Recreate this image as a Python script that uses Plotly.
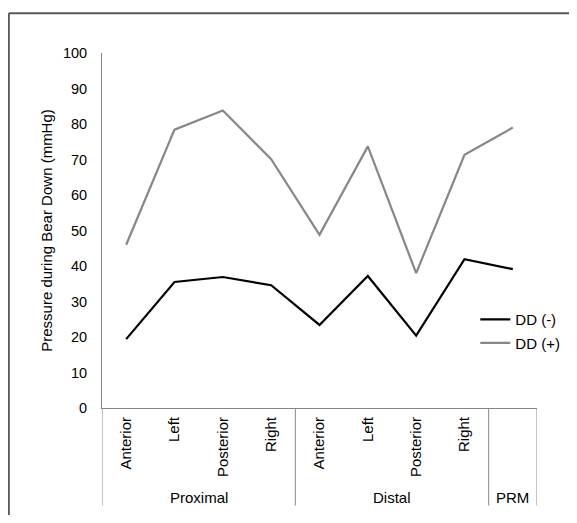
import plotly.graph_objects as go

# ---- data ----
categories = ["Anterior", "Left", "Posterior", "Right",
              "Anterior", "Left", "Posterior", "Right", ""]
groups = ["Proximal", "Distal", "PRM"]
group_sizes = [4, 4, 1]
dd_minus = [19.4, 35.5, 36.9, 34.6, 23.4, 37.2, 20.4, 41.9, 39.1]
dd_plus = [46.0, 78.4, 83.8, 70.1, 48.8, 73.7, 38.0, 71.3, 79.0]
y_ticks = list(range(0, 101, 10))

FONT = "Liberation Sans, Arial, sans-serif"
AXIS_COLOR = "#868686"

x_idx = list(range(len(categories)))

fig = go.Figure()
fig.add_trace(go.Scatter(x=x_idx, y=dd_minus, mode="lines", name="DD (-)",
                         line=dict(color="#000000", width=2.2),
                         legendgroup="a"))
fig.add_trace(go.Scatter(x=x_idx, y=dd_plus, mode="lines", name="DD (+)",
                         line=dict(color="#878787", width=2.2),
                         legendgroup="b"))

# figure geometry (pixels, figure sits 8px inside the page because of body margin)
OFF = 8
W, H = 577 - 2 * OFF, 523 - 2 * OFF
L, R, T, B = 101.7 - OFF, 536.7 - OFF, 53.3 - OFF, 407.7 - OFF
pw, ph = R - L, B - T

def px_to_paper_x(px):
    return (px - OFF - L) / pw

def px_to_paper_y(py):
    return (B - (py - OFF)) / ph

shapes = []
annotations = []
# group separators below the axis
bounds = [-0.5]
for s in group_sizes:
    bounds.append(bounds[-1] + s)
sep_bottom = px_to_paper_y(505)
for b in bounds:
    shapes.append(dict(type="line", xref="x", yref="paper", x0=b, x1=b,
                       y0=0, y1=sep_bottom,
                       line=dict(color=AXIS_COLOR, width=1)))
# group labels
for g, a, b in zip(groups, bounds[:-1], bounds[1:]):
    annotations.append(dict(text=g, x=(a + b) / 2, xref="x",
                            y=px_to_paper_y(497), yref="paper",
                            showarrow=False, xanchor="center", yanchor="middle",
                            font=dict(family=FONT, size=15, color="#000")))
# outer frame (only left and top edges are visible)
fx, fy = px_to_paper_x(8.5), px_to_paper_y(13.5)
shapes.append(dict(type="line", xref="paper", yref="paper",
                   x0=fx, x1=fx, y0=fy, y1=px_to_paper_y(523),
                   line=dict(color="#595959", width=2), layer="below"))
shapes.append(dict(type="line", xref="paper", yref="paper",
                   x0=fx, x1=px_to_paper_x(577), y0=fy, y1=fy,
                   line=dict(color="#595959", width=2), layer="below"))

fig.update_layout(
    width=W, height=H,
    margin=dict(l=L, r=W - R, t=T, b=H - B, autoexpand=False),
    paper_bgcolor="white", plot_bgcolor="white",
    font=dict(family=FONT, size=15, color="#000"),
    showlegend=True,
    legend=dict(x=px_to_paper_x(475), y=px_to_paper_y(303), xanchor="left",
                yanchor="top", tracegroupgap=1, bgcolor="rgba(0,0,0,0)",
                font=dict(family=FONT, size=15, color="#000"),
                itemwidth=30),
    shapes=shapes,
    annotations=annotations,
)
fig.update_xaxes(range=[-0.5, len(categories) - 0.5], tickmode="array",
                 tickvals=x_idx, ticktext=categories, tickangle=-90,
                 showgrid=False, zeroline=False, showline=True,
                 linecolor=AXIS_COLOR, linewidth=1, ticks="",
                 tickfont=dict(family=FONT, size=15, color="#000"),
                 ticklabelstandoff=2)
fig.update_yaxes(range=[0, 100], tickmode="array", tickvals=y_ticks,
                 showgrid=False, zeroline=False, showline=True,
                 linecolor=AXIS_COLOR, linewidth=1, ticks="",
                 tickfont=dict(family=FONT, size=14.5, color="#000"),
                 ticklabelstandoff=11,
                 title=dict(text="Pressure during Bear Down (mmHg)", standoff=6,
                            font=dict(family=FONT, size=15, color="#000")))

fig.write_html("out.html")
